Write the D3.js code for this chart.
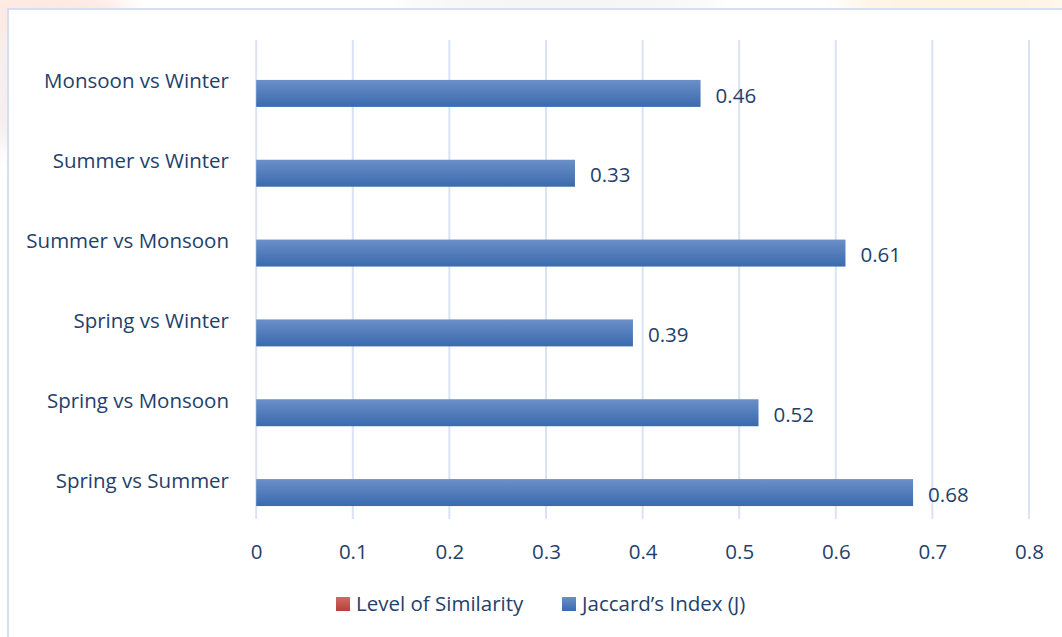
<!DOCTYPE html>
<html>
<head>
<meta charset="utf-8">
<script src="https://cdn.jsdelivr.net/npm/d3@7"></script>
<style>
  body { margin: 0; background: #fff; }
  svg text { font-family: "Open Sans", "Liberation Sans", sans-serif; fill: #243f6b; }
</style>
</head>
<body>
<svg></svg>
<script>
var width = 1062;
var height = 637;

// categories top to bottom
var categories = ["Monsoon vs Winter", "Summer vs Winter", "Summer vs Monsoon",
                  "Spring vs Winter", "Spring vs Monsoon", "Spring vs Summer"];
var jaccard = [0.46, 0.33, 0.61, 0.39, 0.52, 0.68];
var levelOfSimilarity = [0, 0, 0, 0, 0, 0];   // legend only, no visible bars
var seriesNames = ["Level of Similarity", "Jaccard\u2019s Index (J)"];
var xTicks = [0, 0.1, 0.2, 0.3, 0.4, 0.5, 0.6, 0.7, 0.8];

var fontSize = 20.5;

var svg = d3.select("svg")
              .attr("width", width)
              .attr("height", height);

var defs = svg.append("defs");
var grad = defs.append("linearGradient")
                 .attr("id", "barGrad")
                 .attr("x1", 0).attr("y1", 0).attr("x2", 0).attr("y2", 1);
grad.append("stop").attr("offset", "0%").attr("stop-color", "#6b8fc8");
grad.append("stop").attr("offset", "100%").attr("stop-color", "#3a6aae");

var redGrad = defs.append("linearGradient")
                 .attr("id", "redGrad")
                 .attr("x1", 0).attr("y1", 0).attr("x2", 0).attr("y2", 1);
redGrad.append("stop").attr("offset", "0%").attr("stop-color", "#cf6a66");
redGrad.append("stop").attr("offset", "100%").attr("stop-color", "#b8403c");

var blur = defs.append("filter").attr("id", "soft")
                 .attr("x", "-50%").attr("y", "-50%").attr("width", "200%").attr("height", "200%");
blur.append("feGaussianBlur").attr("stdDeviation", 12);

// faint watermark behind the chart frame
var bg = svg.append("g").attr("filter", "url(#soft)");
bg.append("ellipse").attr("cx", 40).attr("cy", 20).attr("rx", 90).attr("ry", 40).attr("fill", "#fde9e2");
bg.append("ellipse").attr("cx", 10).attr("cy", 90).attr("rx", 30).attr("ry", 60).attr("fill", "#f6eeee");
bg.append("ellipse").attr("cx", 960).attr("cy", 5).attr("rx", 120).attr("ry", 20).attr("fill", "#fdf3df");
bg.append("ellipse").attr("cx", 560).attr("cy", 3).attr("rx", 160).attr("ry", 12).attr("fill", "#f2f2f2");

// chart frame
svg.append("rect")
     .attr("x", 8).attr("y", 9)
     .attr("width", 1080).attr("height", 650)
     .attr("fill", "#fff")
     .attr("stroke", "#d5dff0")
     .attr("stroke-width", 2);

var plot = { left: 256.2, right: 1029, top: 40, bottom: 519 };

var x = d3.scaleLinear()
            .domain([0, 0.8])
            .range([plot.left, plot.right]);

var y = d3.scaleBand()
            .domain(categories)
            .range([plot.top, plot.bottom]);

var ySeries = d3.scaleBand()
                  .domain(seriesNames)
                  .range([0, y.bandwidth()])
                  .paddingOuter(0.48);

// gridlines
svg.append("g")
     .selectAll("line")
     .data(xTicks)
     .enter()
     .append("line")
       .attr("x1", d => x(d)).attr("x2", d => x(d))
       .attr("y1", plot.top).attr("y2", plot.bottom)
       .attr("stroke", "#d9e3f4")
       .attr("stroke-width", 2);

// x axis labels
var xAxis = svg.append("g")
     .attr("transform", "translate(0," + (plot.bottom + 25) + ")")
     .call(d3.axisBottom(x).tickValues(xTicks).tickSize(0).tickPadding(0)
             .tickFormat(d => d === 0 ? "0" : d3.format(".1f")(d)));
xAxis.select(".domain").remove();
xAxis.selectAll("text")
       .attr("font-size", fontSize)
       .attr("dy", "0.71em")
       .attr("fill", null);

// category labels
var yAxis = svg.append("g")
     .attr("transform", "translate(229,2)")
     .call(d3.axisLeft(y).tickSize(0).tickPadding(0));
yAxis.select(".domain").remove();
yAxis.selectAll("text")
       .attr("font-size", fontSize)
       .attr("fill", null);

// bars
var rows = categories.map((c, i) => ({ cat: c, level: levelOfSimilarity[i], j: jaccard[i] }));

svg.append("g")
     .selectAll("rect")
     .data(rows)
     .enter()
     .append("rect")
       .attr("x", x(0))
       .attr("y", d => y(d.cat) + ySeries(seriesNames[0]))
       .attr("width", d => x(d.level) - x(0))
       .attr("height", ySeries.bandwidth())
       .attr("fill", "url(#redGrad)");

svg.append("g")
     .selectAll("rect")
     .data(rows)
     .enter()
     .append("rect")
       .attr("x", x(0))
       .attr("y", d => y(d.cat) + ySeries(seriesNames[1]))
       .attr("width", d => x(d.j) - x(0))
       .attr("height", ySeries.bandwidth())
       .attr("fill", "url(#barGrad)");

// value labels
svg.append("g")
     .selectAll("text")
     .data(rows)
     .enter()
     .append("text")
       .attr("x", d => x(d.j) + 15)
       .attr("y", d => y(d.cat) + ySeries(seriesNames[1]) + ySeries.bandwidth() / 2 + 2)
       .attr("dy", "0.35em")
       .attr("font-size", fontSize)
       .text(d => d3.format(".2f")(d.j));

// legend
var legendX = [336, 562];
var legend = svg.append("g")
     .selectAll("g")
     .data(seriesNames)
     .enter()
     .append("g")
       .attr("transform", (d, i) => "translate(" + legendX[i] + ",604)");
legend.append("rect")
        .attr("x", 0).attr("y", -7)
        .attr("width", 14).attr("height", 14)
        .attr("fill", (d, i) => i === 0 ? "url(#redGrad)" : "url(#barGrad)");
legend.append("text")
        .attr("x", 20)
        .attr("dy", "0.35em")
        .attr("font-size", fontSize)
        .text(d => d);
</script>
</body>
</html>
